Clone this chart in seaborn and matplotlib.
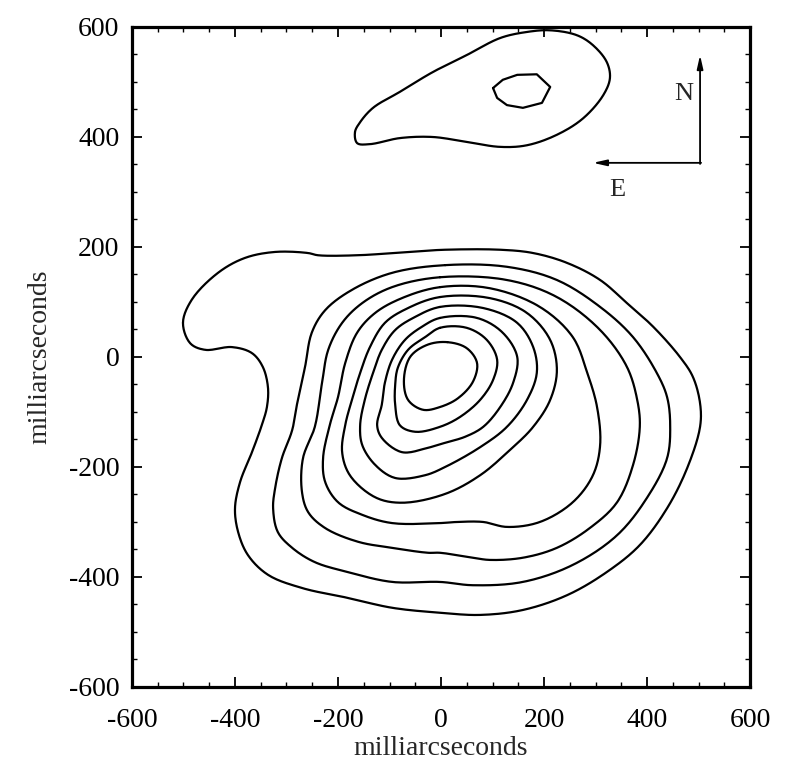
import matplotlib
matplotlib.use("Agg")
import matplotlib.pyplot as plt
import seaborn as sns
import pandas as pd
import numpy as np

# ---- traced contour levels (milliarcseconds) ----
# main component, level 1 (outermost) ... level 9 (innermost)
c1_x = [-501, -484, -433, -381, -322, -258, -239, -161, -64, 8, 115, 179, 245, 309, 361, 412, 464, 489, 503, 503,
        478, 439, 386, 322, 245, 159, 76, -2, -95, -181, -270, -336, -375, -394, -400, -390, -367, -348, -338, -336,
        -346, -367, -406, -458, -487]
c1_y = [62, 104, 153, 180, 191, 189, 185, 185, 191, 195, 195, 189, 171, 140, 98, 55, 0, -36, -84, -127,
        -202, -275, -342, -391, -433, -460, -469, -465, -456, -438, -420, -396, -360, -318, -275, -227, -173, -124, -91, -55,
        -18, 7, 18, 13, 25]

c2_x = [8, -95, -173, -225, -251, -264, -278, -289, -309, -322, -326, -317, -289, -245, -181, -95, -2, 62, 159, 256,
        342, 400, 439, 445, 439, 419, 373, 309, 225, 128]
c2_y = [167, 153, 122, 85, 44, -18, -78, -133, -184, -238, -275, -318, -347, -373, -391, -409, -409, -415, -409, -378,
        -324, -256, -184, -124, -73, -29, 36, 91, 140, 164]

c3_x = [-2, 128, 225, 309, 361, 381, 386, 373, 342, 289, 225, 159, 95, 62, -2, -25, -95, -161, -225, -258,
        -270, -268, -245, -231, -219, -192, -153, -95]
c3_y = [145, 140, 109, 49, -18, -78, -127, -196, -264, -311, -347, -365, -369, -365, -356, -356, -347, -336, -311, -282,
        -245, -184, -127, -47, 13, 62, 98, 127]

c4_x = [-2, 95, 192, 256, 284, 303, 309, 295, 256, 192, 128, 82, 31, -2, -95, -153, -200, -225, -229, -216,
        -200, -186, -163, -128, -76]
c4_y = [127, 125, 91, 36, -29, -91, -160, -215, -264, -300, -309, -300, -300, -302, -302, -287, -264, -227, -184, -124,
        -73, -11, 44, 80, 107]

c5_x = [-2, 95, 167, 212, 225, 212, 179, 134, 76, 8, -76, -128, -177, -192, -186, -173, -157, -138, -109, -64]
c5_y = [109, 107, 80, 31, -24, -78, -127, -169, -215, -249, -265, -255, -215, -173, -124, -78, -29, 18, 62, 89]

c6_x = [-2, 82, 148, 179, 186, 167, 128, 76, 8, -31, -89, -128, -153, -157, -148, -132, -115, -89, -50]
c6_y = [91, 89, 62, 18, -29, -78, -127, -164, -200, -215, -220, -196, -160, -124, -78, -29, 13, 49, 73]

c7_x = [-2, 70, 120, 148, 140, 115, 82, 47, 8, -25, -76, -115, -124, -115, -109, -95, -70, -37]
c7_y = [71, 71, 44, 0, -47, -91, -127, -145, -156, -165, -173, -147, -124, -87, -47, -5, 31, 55]

c8_x = [-2, 50, 89, 109, 101, 76, 37, -2, -50, -80, -89, -89, -84, -64, -31]
c8_y = [53, 53, 31, -5, -42, -78, -109, -127, -136, -124, -87, -51, -20, 13, 36]

c9_x = [12, 50, 70, 62, 33, -2, -35, -64, -72, -60, -27]
c9_y = [27, 16, -11, -45, -75, -91, -96, -78, -42, 0, 22]

# northern component
n1_x = [-167, -163, -138, -80, -16, 50, 115, 167, 225, 276, 315, 328, 322, 295, 264, 212, 167, 115, 50, -16,
        -80, -132, -157]
n1_y = [409, 389, 387, 398, 400, 391, 382, 385, 404, 434, 476, 507, 536, 567, 585, 594, 591, 580, 549, 518,
        482, 453, 427]

n2_x = [101, 120, 148, 186, 212, 196, 159, 128, 109]
n2_y = [489, 504, 513, 514, 491, 462, 453, 458, 471]

contours = [("c1", c1_x, c1_y, True), ("c2", c2_x, c2_y, True), ("c3", c3_x, c3_y, True),
            ("c4", c4_x, c4_y, True), ("c5", c5_x, c5_y, True), ("c6", c6_x, c6_y, True),
            ("c7", c7_x, c7_y, True), ("c8", c8_x, c8_y, True), ("c9", c9_x, c9_y, True),
            ("n1", n1_x, n1_y, True), ("n2", n2_x, n2_y, False)]

tick_values = [-600, -400, -200, 0, 200, 400, 600]
axis_label = "milliarcseconds"


def closed_curve(xs, ys, smooth, n=14, alpha=0.5):
    """Closed centripetal Catmull-Rom curve through the traced contour points."""
    P = np.column_stack([xs, ys]).astype(float)
    if not smooth:
        return np.vstack([P, P[:1]])
    N = len(P)
    out = []
    for i in range(N):
        p0, p1, p2, p3 = P[(i - 1) % N], P[i], P[(i + 1) % N], P[(i + 2) % N]
        t0 = 0.0
        t1 = t0 + np.linalg.norm(p1 - p0) ** alpha
        t2 = t1 + np.linalg.norm(p2 - p1) ** alpha
        t3 = t2 + np.linalg.norm(p3 - p2) ** alpha
        t = np.linspace(t1, t2, n, endpoint=False)[:, None]
        a1 = (t1 - t) / (t1 - t0) * p0 + (t - t0) / (t1 - t0) * p1
        a2 = (t2 - t) / (t2 - t1) * p1 + (t - t1) / (t2 - t1) * p2
        a3 = (t3 - t) / (t3 - t2) * p2 + (t - t2) / (t3 - t2) * p3
        b1 = (t2 - t) / (t2 - t0) * a1 + (t - t0) / (t2 - t0) * a2
        b2 = (t3 - t) / (t3 - t1) * a2 + (t - t1) / (t3 - t1) * a3
        c = (t2 - t) / (t2 - t1) * b1 + (t - t1) / (t2 - t1) * b2
        out.append(c)
    out = np.vstack(out)
    return np.vstack([out, out[:1]])


frames = []
for name, xs, ys, smooth in contours:
    pts = closed_curve(xs, ys, smooth)
    frames.append(pd.DataFrame({"contour": name, "x": pts[:, 0], "y": pts[:, 1]}))
df = pd.concat(frames, ignore_index=True)

sns.set_style("white")
plt.rcParams["font.family"] = ["Liberation Serif", "DejaVu Serif"]

fig = plt.figure(figsize=(7.88, 7.78), dpi=100)
ax = fig.add_axes([0.1675, 0.117, 0.7843, 0.8483])

sns.lineplot(data=df, x="x", y="y", units="contour", estimator=None, sort=False,
             color="black", linewidth=1.6, ax=ax, legend=False)
for line in ax.get_lines():
    line.set_solid_joinstyle("round")
    line.set_solid_capstyle("round")

ax.set_xlim(-600, 600)
ax.set_ylim(-600, 600)
ax.set_xticks(tick_values)
ax.set_yticks(tick_values)
ax.set_xticklabels([str(v) for v in tick_values])
ax.set_yticklabels([str(v) for v in tick_values])
ax.set_xticks(range(-600, 601, 50), minor=True)
ax.set_yticks(range(-600, 601, 50), minor=True)
ax.tick_params(which="both", direction="in", top=True, right=True, bottom=True, left=True,
               colors="black", labelsize=20)
ax.tick_params(which="major", length=7, width=1.3)
ax.tick_params(which="minor", length=3.5, width=1.0)
ax.tick_params(axis="x", which="major", pad=15)
ax.tick_params(axis="y", which="major", pad=9)
for s in ax.spines.values():
    s.set_linewidth(2.3)
    s.set_color("black")

ax.set_xlabel(axis_label, fontsize=20, labelpad=2)
ax.set_ylabel(axis_label, fontsize=20, labelpad=12)

# compass N / E
arrow_kw = dict(arrowstyle="-|>,head_length=0.8,head_width=0.18", color="black", lw=1.3,
                shrinkA=0, shrinkB=0)
ax.annotate("", xy=(503, 549), xytext=(503, 351), arrowprops=arrow_kw)
ax.annotate("", xy=(295, 353), xytext=(505, 353), arrowprops=arrow_kw)
ax.text(472, 478, "N", fontsize=19, ha="center", va="center")
ax.text(342, 304, "E", fontsize=19, ha="center", va="center")

fig.savefig("out.png", dpi=100, facecolor="white")
